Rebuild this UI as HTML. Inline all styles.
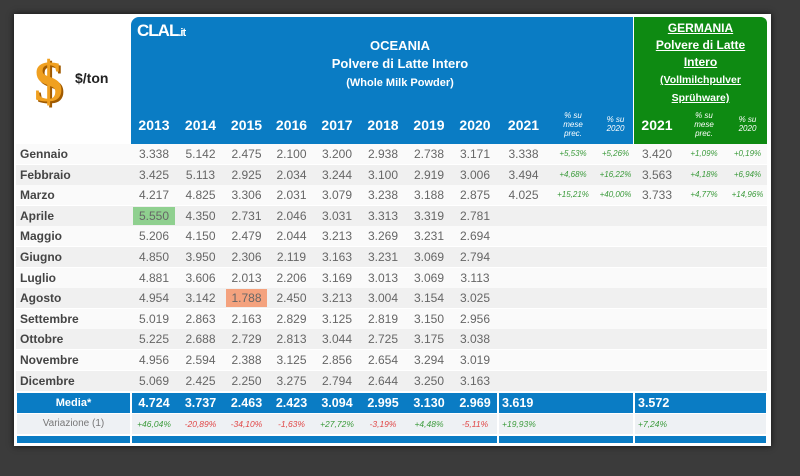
<!DOCTYPE html>
<html><head><meta charset="utf-8">
<style>
body{margin:0;width:800px;height:476px;background:#3b3b3b;overflow:hidden;font-family:"Liberation Sans","DejaVu Sans",sans-serif;position:relative}
.a{position:absolute}
.card{left:14px;top:14px;width:757px;height:432px;background:#fff;box-shadow:0 0 6px #111}
.c{position:absolute;text-align:center;white-space:nowrap}
</style></head>
<body>
<div class="a card"></div>
<div class="a" style="left:131px;top:17px;width:502px;height:127px;background:#0a7cc4;border-radius:8px 0 0 0"></div>
<div class="a" style="left:634px;top:17px;width:133px;height:127px;background:#0e8a12;border-radius:0 6px 0 0"></div>
<div class="a" style="left:137px;top:21px;color:#fff;font-weight:bold;font-size:17px;letter-spacing:-1px">CLAL<span style="font-size:11px">.it</span></div>
<div class="c" style="left:280px;top:37px;width:240px;color:#fff;font-weight:bold;font-size:13px;line-height:18px">OCEANIA<br>Polvere di Latte Intero<br><span style="font-size:11px">(Whole Milk Powder)</span></div>
<div class="c" style="left:634px;top:20px;width:133px;color:#fff;font-weight:bold;font-size:12px;line-height:17px;text-decoration:underline">GERMANIA<br>Polvere di Latte<br>Intero<br><span style="font-size:10.5px">(Vollmilchpulver<br>Sprühware)</span></div>
<div class="c" style="left:34px;top:48px;font-size:58px;font-weight:bold;color:#f0a020;text-shadow:2px 2px 0 #a05a00;font-family:'Liberation Serif',serif">$</div>
<div class="a" style="left:75px;top:70px;font-weight:bold;font-size:14px;color:#222">$/ton</div>
<div id="g"></div>
<script>
const years=["2013","2014","2015","2016","2017","2018","2019","2020","2021"];
const months=["Gennaio","Febbraio","Marzo","Aprile","Maggio","Giugno","Luglio","Agosto","Settembre","Ottobre","Novembre","Dicembre"];
const v2013=["3.338","3.425","4.217","5.550","5.206","4.850","4.881","4.954","5.019","5.225","4.956","5.069"];
const v2014=["5.142","5.113","4.825","4.350","4.150","3.950","3.606","3.142","2.863","2.688","2.594","2.425"];
const v2015=["2.475","2.925","3.306","2.731","2.479","2.306","2.013","1.788","2.163","2.729","2.388","2.250"];
const v2016=["2.100","2.034","2.031","2.046","2.044","2.119","2.206","2.450","2.829","2.813","3.125","3.275"];
const v2017=["3.200","3.244","3.079","3.031","3.213","3.163","3.169","3.213","3.125","3.044","2.856","2.794"];
const v2018=["2.938","3.100","3.238","3.313","3.269","3.231","3.013","3.004","2.819","2.725","2.654","2.644"];
const v2019=["2.738","2.919","3.188","3.319","3.231","3.069","3.069","3.154","3.150","3.175","3.294","3.250"];
const v2020=["3.171","3.006","2.875","2.781","2.694","2.794","3.113","3.025","2.956","3.038","3.019","3.163"];
const v2021=["3.338","3.494","4.025"];
const pctMese=["+5,53%","+4,68%","+15,21%"];
const pct2020=["+5,26%","+16,22%","+40,00%"];
const de2021=["3.420","3.563","3.733"];
const dePctMese=["+1,09%","+4,18%","+4,77%"];
const dePct2020=["+0,19%","+6,94%","+14,96%"];
const media=["4.724","3.737","2.463","2.423","3.094","2.995","3.130","2.969","3.619"];
const deMedia="3.572";
const variaz=["+46,04%","-20,89%","-34,10%","-1,63%","+27,72%","-3,19%","+4,48%","-5,11%","+19,93%"];
const deVariaz="+7,24%";
const cols=[131,177,224,269,314,360,406,452,498,549,597,634,680,728,767];
const g=document.getElementById('g');
function add(x,y,w,h,txt,st,name){const d=document.createElement('div');d.className='c';
d.style.cssText=`left:${x}px;top:${y}px;width:${w}px;height:${h}px;line-height:${h}px;`+st;
d.textContent=txt;


g.appendChild(d);return d;}
const rowY=i=>144+i*20.6;
for(let j=0;j<9;j++){add(cols[j],114,cols[j+1]-cols[j],22,years[j],'color:#fff;font-weight:bold;font-size:14px;','year-header');}
add(634,114,46,22,'2021','color:#fff;font-weight:bold;font-size:14px;','year-header');
[[549,597],[597,634],[680,728],[728,767]].forEach((c,k)=>{const d=add(c[0],106,c[1]-c[0],36,'','color:#fff;font-style:italic;font-size:8px;line-height:9px;display:flex;align-items:center;justify-content:center;','pct-header');
d.innerHTML=(k%2==0)?'% su<br>mese<br>prec.':'% su<br>2020';});
for(let i=0;i<12;i++){const y=rowY(i);
const bg=i%2?'#f0f0f0':'#fafafa';
const r=document.createElement('div');r.className='a';r.style.cssText=`left:16px;top:${y}px;width:751px;height:20px;background:${bg}`;


g.appendChild(r);
add(20,y,110,20,months[i],'text-align:left;font-weight:bold;font-size:12px;color:#444;','month-label');
const vals=[v2013,v2014,v2015,v2016,v2017,v2018,v2019,v2020];
for(let j=0;j<8;j++){let st='font-size:12px;color:#666;';
if(i==3&&j==0)st+='background:#8fd08f;';if(i==7&&j==2)st+='background:#f4a27e;';
add(cols[j]+2,y+1,cols[j+1]-cols[j]-4,18,vals[j][i],st,'value-cell');}
if(i<3){add(498,y,51,20,v2021[i],'font-size:12px;color:#666;','value-cell');
add(549,y,48,20,pctMese[i],'font-size:8px;color:#3a9a3a;font-style:italic;','pct-cell');
add(597,y,37,20,pct2020[i],'font-size:8px;color:#3a9a3a;font-style:italic;','pct-cell');
add(634,y,46,20,de2021[i],'font-size:12px;color:#666;','value-cell');
add(680,y,48,20,dePctMese[i],'font-size:8px;color:#3a9a3a;font-style:italic;','pct-cell');
add(728,y,39,20,dePct2020[i],'font-size:8px;color:#3a9a3a;font-style:italic;','pct-cell');}
}
const seg=[[16,131],[131,498],[498,634],[634,767]];
seg.forEach(s=>{const d=document.createElement('div');d.className='a';d.style.cssText=`left:${s[0]+1}px;top:393px;width:${s[1]-s[0]-2}px;height:20px;background:#0a7cc4`;

g.appendChild(d);
const e=document.createElement('div');e.className='a';e.style.cssText=`left:${s[0]+1}px;top:436px;width:${s[1]-s[0]-2}px;height:7px;background:#0a7cc4`;

g.appendChild(e);
const f=document.createElement('div');f.className='a';f.style.cssText=`left:${s[0]+1}px;top:414px;width:${s[1]-s[0]-2}px;height:20px;background:#eef1f4`;

g.appendChild(f);});
add(16,393,115,20,'Media*','color:#fff;font-weight:bold;font-size:11px;','media-label');
add(16,414,115,20,'Variazione (1)','color:#777;font-size:10px;','variazione-label');
for(let j=0;j<8;j++){add(cols[j],393,cols[j+1]-cols[j],20,media[j],'color:#fff;font-weight:bold;font-size:12.5px;','media-value');
add(cols[j],414,cols[j+1]-cols[j],20,variaz[j],'font-size:8.5px;font-style:italic;color:'+(variaz[j][0]=='-'?'#e04545':'#3a9a3a')+';','variazione-value');}
add(502,393,60,20,media[8],'text-align:left;color:#fff;font-weight:bold;font-size:12.5px;','media-value');
add(502,414,60,20,variaz[8],'text-align:left;font-size:8.5px;font-style:italic;color:#3a9a3a;','variazione-value');
add(638,393,60,20,deMedia,'text-align:left;color:#fff;font-weight:bold;font-size:12.5px;','media-value');
add(638,414,60,20,deVariaz,'text-align:left;font-size:8.5px;font-style:italic;color:#3a9a3a;','variazione-value');
</script>
</body></html>
